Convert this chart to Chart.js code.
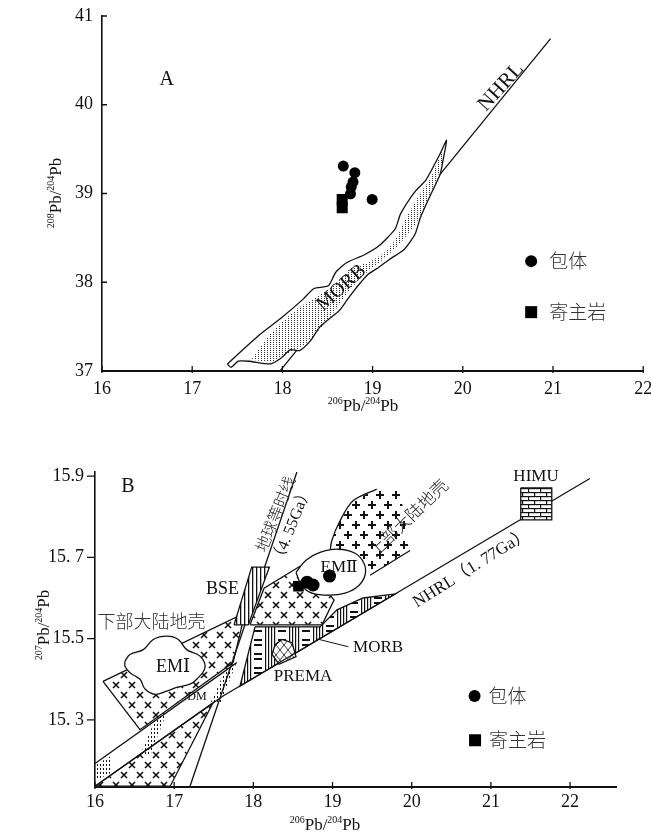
<!DOCTYPE html>
<html>
<head>
<meta charset="utf-8">
<script src="https://cdn.jsdelivr.net/npm/chart.js@4.4.1/dist/chart.umd.min.js"></script>
<style>
    body { margin: 0; background: #fff; }
    #wrap { position: relative; width: 651px; height: 832px; }
    canvas { position: absolute; left: 0; }
</style>
</head>
<body>
<div id="wrap">
    <canvas id="chartA" width="651" height="420" style="top:0"></canvas>
    <canvas id="chartB" width="651" height="392" style="top:440px"></canvas>
</div>
<script>
// Panel A: 208Pb/204Pb vs 206Pb/204Pb
var aXTicks = [16, 17, 18, 19, 20, 21, 22];
var aYTicks = [37, 38, 39, 40, 41];
var aInclusions = [[18.675, 39.309], [18.803, 39.234], [18.783, 39.129], [18.763, 39.072], [18.995, 38.933], [18.755, 38.997]];
var aHostRocks = [[18.663, 38.933], [18.663, 38.839]];
var aNhrl = [[17.976, 37.005], [20.973, 40.745]];
var aMorbOutline = [
    [17.39, 37.08], [17.75, 37.41], [17.99, 37.60], [18.23, 37.81], [18.35, 37.93], [18.51, 37.96],
    [18.59, 38.11], [18.71, 38.22], [18.91, 38.31], [19.07, 38.41], [19.25, 38.60], [19.31, 38.77],
    [19.47, 39.02], [19.59, 39.15], [19.75, 39.45], [19.82, 39.60], [19.78, 39.37], [19.75, 39.22],
    [19.65, 39.00], [19.53, 38.73], [19.47, 38.54], [19.35, 38.37], [19.19, 38.26], [19.07, 38.17],
    [18.95, 38.09], [18.87, 38.00], [18.79, 37.90], [18.71, 37.79], [18.63, 37.68], [18.51, 37.58],
    [18.41, 37.49], [18.31, 37.34], [18.19, 37.23], [18.09, 37.24], [17.99, 37.15], [17.87, 37.08],
    [17.63, 37.11], [17.51, 37.11], [17.43, 37.04], [17.39, 37.08]
];
var aMorbCore = [
    [17.66, 37.13], [17.86, 37.41], [18.16, 37.70], [18.42, 37.86], [18.64, 38.03], [18.75, 38.15],
    [18.97, 38.23], [19.16, 38.36], [19.28, 38.53], [19.37, 38.72], [19.52, 38.99], [19.64, 39.17],
    [19.78, 39.50], [19.80, 39.47], [19.72, 39.18], [19.58, 38.86], [19.46, 38.63], [19.27, 38.40],
    [19.12, 38.26], [18.98, 38.15], [18.82, 38.00], [18.70, 37.85], [18.54, 37.62], [18.38, 37.43],
    [18.22, 37.27], [17.99, 37.16], [17.87, 37.10], [17.66, 37.13]
];

// Panel B: 207Pb/204Pb vs 206Pb/204Pb
var bXTicks = [16, 17, 18, 19, 20, 21, 22];
var bYTicks = [15.3, 15.5, 15.7, 15.9];
var bYTickLabels = ['15. 3', '15.5', '15. 7', '15.9'];
var bInclusions = [[18.678, 15.639], [18.754, 15.632], [18.962, 15.654]];
var bHostRocks = [[18.570, 15.629]];
var bNhrl = [[16.0, 15.137], [17.617, 15.359], [22.25, 15.894]];
var bGeochron = [[17.2, 15.137], [18.55, 15.91]];
var bDmUpper = [[16.0, 15.193], [17.79, 15.441]];
var bLowerCrossBand = [[16.0, 15.137], [17.49, 15.342], [16.95, 15.137], [16.0, 15.137]];
var bDmStipple = [
    [[16.568, 15.212], [16.695, 15.212], [16.985, 15.359], [16.884, 15.359], [16.568, 15.212]],
    [[17.453, 15.339], [17.579, 15.339], [17.781, 15.437], [17.680, 15.437], [17.453, 15.339]],
    [[16.0, 15.188], [16.189, 15.210], [16.189, 15.168], [16.0, 15.151], [16.0, 15.188]]
];
var bLowerCrust = [[16.101, 15.395], [17.895, 15.563], [17.743, 15.441], [16.568, 15.276], [16.101, 15.395]];
var bEm1 = [
    [16.379, 15.445], [16.442, 15.461], [16.610, 15.473], [16.736, 15.498], [16.906, 15.506],
    [17.052, 15.498], [17.158, 15.473], [17.326, 15.457], [17.389, 15.429], [17.285, 15.400],
    [17.200, 15.388], [17.032, 15.380], [16.906, 15.371], [16.758, 15.363], [16.632, 15.376],
    [16.568, 15.400], [16.442, 15.416], [16.379, 15.432], [16.379, 15.445]
];
var bBse = [[17.756, 15.534], [17.979, 15.676], [18.202, 15.676], [17.936, 15.534], [17.756, 15.534]];
var bCrossField = [
    [17.958, 15.534], [18.135, 15.624], [18.589, 15.678], [18.615, 15.629], [18.741, 15.612],
    [18.968, 15.607], [19.019, 15.595], [18.867, 15.534], [17.958, 15.534]
];
var bMorb = [
    [18.021, 15.529], [18.842, 15.529], [19.057, 15.571], [19.385, 15.600], [19.789, 15.610],
    [17.831, 15.383], [18.021, 15.529]
];
var bPrema = [[18.362, 15.498], [18.488, 15.490], [18.539, 15.456], [18.324, 15.437], [18.236, 15.461], [18.274, 15.485], [18.362, 15.498]];
var bEm2 = [
    [18.539, 15.663], [18.665, 15.693], [18.842, 15.712], [19.069, 15.720], [19.284, 15.710],
    [19.398, 15.685], [19.410, 15.656], [19.322, 15.629], [19.158, 15.612], [18.968, 15.607],
    [18.741, 15.612], [18.615, 15.629], [18.539, 15.663]
];
var bUpperCrust = [
    [19.558, 15.868], [19.259, 15.839], [19.095, 15.790], [18.990, 15.741], [18.968, 15.712],
    [19.30, 15.71], [19.41, 15.67], [19.474, 15.656], [19.979, 15.717], [19.853, 15.863], [19.558, 15.868]
];
var bUpperCrustArc = [[19.558, 15.868], [19.259, 15.839], [19.095, 15.790], [18.990, 15.741], [18.968, 15.712]];
var bUpperCrustEdge = [[19.979, 15.717], [19.474, 15.656]];
var bHimu = [[21.377, 15.871], [21.769, 15.871], [21.769, 15.792], [21.377, 15.792], [21.377, 15.871]];
var bMorbPointer = [[18.79, 15.50], [19.20, 15.48]];

var ink = '#111';
var serif = '"Liberation Serif", "DejaVu Serif", serif';
var cjk = '"Noto Sans CJK SC", sans-serif';

function makePattern(w, h, bg, draw) {
    var c = document.createElement('canvas');
    c.width = w;
    c.height = h;
    var g = c.getContext('2d');
    if (bg) {
        g.fillStyle = bg;
        g.fillRect(0, 0, w, h);
    }
    g.strokeStyle = ink;
    g.fillStyle = ink;
    draw(g);
    return g.createPattern(c, 'repeat');
}

function crossAt(g, x, y, r) {
    g.beginPath();
    g.moveTo(x - r, y - r); g.lineTo(x + r, y + r);
    g.moveTo(x + r, y - r); g.lineTo(x - r, y + r);
    g.stroke();
}

function plusAt(g, x, y, r) {
    g.beginPath();
    g.moveTo(x - r, y); g.lineTo(x + r, y);
    g.moveTo(x, y - r); g.lineTo(x, y + r);
    g.stroke();
}

var patterns = {
    dots: makePattern(3, 2, null, function (g) { g.fillStyle = '#333'; g.fillRect(0, 0, 1, 1); }),
    dashes: makePattern(3, 4, null, function (g) { g.fillRect(1, 0, 1, 2); }),
    crosses: makePattern(16, 20, '#fff', function (g) {
        g.lineWidth = 1.6;
        crossAt(g, 4, 5, 3);
        crossAt(g, 12, 15, 3);
    }),
    pluses: makePattern(16, 20, null, function (g) {
        g.lineWidth = 2;
        plusAt(g, 4, 5, 4);
        plusAt(g, 12, 15, 4);
    }),
    vertical: makePattern(4, 4, '#fff', function (g) { g.fillRect(0, 0, 1.3, 4); }),
    morb: makePattern(24, 14, '#fff', function (g) {
        g.fillRect(1, 0, 1.2, 14); g.fillRect(4, 0, 1.2, 14); g.fillRect(7, 0, 1.2, 14); g.fillRect(10, 0, 1.2, 14);
        g.fillRect(14, 3, 8, 2); g.fillRect(14, 8, 8, 2);
    }),
    diamonds: makePattern(8, 10, '#fff', function (g) {
        g.lineWidth = 0.8;
        g.beginPath();
        g.moveTo(0, 0); g.lineTo(8, 10);
        g.moveTo(8, 0); g.lineTo(0, 10);
        g.stroke();
    }),
    bricks: makePattern(12, 8, '#fff', function (g) {
        g.fillRect(0, 0, 12, 1.2); g.fillRect(0, 4, 12, 1.2);
        g.fillRect(0, 0, 1.2, 4); g.fillRect(6, 4, 1.2, 4);
    })
};

function pts(list) {
    return list.map(function (p) { return { x: p[0], y: p[1] }; });
}

function shape(list, fillStyle, extra) {
    return Object.assign({
        data: pts(list),
        borderColor: ink,
        borderWidth: 1.3,
        backgroundColor: fillStyle || 'transparent',
        fill: fillStyle ? 'shape' : false,
        pointRadius: 0,
        tension: 0
    }, extra || {});
}

function markers(list, style, radius) {
    return {
        data: pts(list),
        showLine: false,
        pointStyle: style,
        pointRadius: radius,
        pointBackgroundColor: '#000',
        pointBorderColor: '#000',
        pointBorderWidth: 0
    };
}

function stack(datasets) {
    // first item is drawn at the bottom
    datasets.forEach(function (ds, i) { ds.order = datasets.length - i; });
    return datasets;
}

function drawRatio(ctx, x, y, angle, top, bottom) {
    var parts = [[top, 10, -7], ['Pb', 17, 0], ['/', 17, 0], [bottom, 10, -7], ['Pb', 17, 0]];
    var total = 0;
    ctx.save();
    ctx.translate(x, y);
    ctx.rotate(angle * Math.PI / 180);
    ctx.fillStyle = ink;
    ctx.textBaseline = 'alphabetic';
    ctx.textAlign = 'left';
    parts.forEach(function (p) {
        ctx.font = p[1] + 'px ' + serif;
        p.w = ctx.measureText(p[0]).width;
        total += p.w;
    });
    var cx = -total / 2;
    parts.forEach(function (p) {
        ctx.font = p[1] + 'px ' + serif;
        ctx.fillText(p[0], cx, 6 + p[2]);
        cx += p.w;
    });
    ctx.restore();
}

function artPlugin(cfg) {
    return {
        id: 'art',
        afterDraw: function (chart) {
            var ctx = chart.ctx;
            var xs = chart.scales.x;
            var ys = chart.scales.y;
            var area = chart.chartArea;

            ctx.save();
            ctx.strokeStyle = ink;
            ctx.lineWidth = 1.3;
            ctx.beginPath();
            xs.ticks.forEach(function (t) {
                var px = xs.getPixelForValue(t.value);
                ctx.moveTo(px, area.bottom - 5);
                ctx.lineTo(px, area.bottom + 2);
            });
            ys.ticks.forEach(function (t) {
                var py = ys.getPixelForValue(t.value);
                ctx.moveTo(area.left, py);
                ctx.lineTo(area.left + cfg.yTickLength, py);
            });
            ctx.stroke();
            ctx.restore();

            cfg.labels.forEach(function (item) {
                ctx.save();
                ctx.translate(xs.getPixelForValue(item.x), ys.getPixelForValue(item.y));
                ctx.rotate((item.angle || 0) * Math.PI / 180);
                ctx.font = item.font;
                ctx.fillStyle = item.color || ink;
                ctx.textAlign = 'center';
                ctx.textBaseline = 'middle';
                ctx.fillText(item.text, 0, 0);
                ctx.restore();
            });

            cfg.legend.forEach(function (item) {
                var px = xs.getPixelForValue(item.x);
                var py = ys.getPixelForValue(item.y);
                ctx.save();
                ctx.fillStyle = '#000';
                if (item.marker === 'circle') {
                    ctx.beginPath();
                    ctx.arc(px, py, 6, 0, Math.PI * 2);
                    ctx.fill();
                } else {
                    ctx.fillRect(px - 6, py - 6, 12, 12);
                }
                ctx.font = '300 19px ' + cjk;
                ctx.fillStyle = '#333';
                ctx.textAlign = 'left';
                ctx.textBaseline = 'middle';
                ctx.fillText(item.text, px + cfg.legendGap, py);
                ctx.restore();
            });

            drawRatio(ctx, cfg.xTitle[0], cfg.xTitle[1], 0, '206', '204');
            drawRatio(ctx, cfg.yTitle[0], cfg.yTitle[1], -90, cfg.yTitle[2], '204');
        }
    };
}

function baseOptions(xMin, xMax, yMin, yMax, xTicks, yTicks, layout) {
    return {
        responsive: false,
        animation: false,
        layout: { padding: layout.padding },
        plugins: { legend: { display: false }, tooltip: { enabled: false } },
        scales: {
            x: {
                type: 'linear',
                min: xMin,
                max: xMax,
                grid: { display: false, drawTicks: false },
                border: { display: true, color: ink, width: 2 },
                ticks: { color: ink, font: { family: serif, size: 18 }, padding: layout.xPad },
                afterBuildTicks: function (s) { s.ticks = xTicks.map(function (v) { return { value: v }; }); },
                afterFit: function (s) { s.height = layout.xHeight; s.paddingLeft = 0; s.paddingRight = 0; }
            },
            y: {
                type: 'linear',
                min: yMin,
                max: yMax,
                grid: { display: false, drawTicks: false },
                border: { display: true, color: ink, width: 1.6 },
                ticks: {
                    color: ink,
                    font: { family: serif, size: 18 },
                    padding: layout.yPad,
                    callback: layout.yLabel
                },
                afterBuildTicks: function (s) { s.ticks = yTicks.map(function (v) { return { value: v }; }); },
                afterFit: function (s) { s.width = layout.yWidth; s.paddingTop = 0; s.paddingBottom = 0; }
            }
        }
    };
}

new Chart(document.getElementById('chartA'), {
    type: 'line',
    data: {
        datasets: stack([
            shape(aNhrl, null),
            shape(aMorbOutline, '#fff', { tension: 0.2 }),
            shape(aMorbCore, patterns.dots, { borderWidth: 0, tension: 0.2 }),
            markers(aHostRocks, 'rect', 7.8),
            markers(aInclusions, 'circle', 5.5)
        ])
    },
    options: baseOptions(16, 22, 37, 41, aXTicks, aYTicks, {
        padding: { top: 16, right: 3, bottom: 0, left: 0 },
        xHeight: 49, yWidth: 102, xPad: 7, yPad: 9,
        yLabel: function (v) { return String(v); }
    }),
    plugins: [artPlugin({
        yTickLength: 5,
        legendGap: 18,
        xTitle: [363, 405],
        yTitle: [55, 193, '208'],
        labels: [
            { text: 'A', x: 16.718, y: 40.283, font: '20px ' + serif },
            { text: 'NHRL', x: 20.425, y: 40.2, angle: -48, font: '21px ' + serif },
            { text: 'MORB', x: 18.655, y: 37.937, angle: -42, font: '20px ' + serif }
        ],
        legend: [
            { marker: 'circle', text: '包体', x: 20.758, y: 38.238 },
            { marker: 'rect', text: '寄主岩', x: 20.758, y: 37.663 }
        ]
    })]
});

new Chart(document.getElementById('chartB'), {
    type: 'line',
    data: {
        datasets: stack([
            shape(bLowerCrossBand, patterns.crosses),
            shape(bDmStipple[0], patterns.dashes, { borderWidth: 0 }),
            shape(bDmStipple[1], patterns.dashes, { borderWidth: 0 }),
            shape(bDmStipple[2], patterns.dashes, { borderWidth: 0 }),
            shape(bLowerCrust, patterns.crosses),
            shape(bMorb, patterns.morb),
            shape(bPrema, patterns.diamonds),
            shape(bCrossField, patterns.crosses),
            shape(bUpperCrust, patterns.pluses, { borderWidth: 0 }),
            shape(bUpperCrustArc, null, { tension: 0.3 }),
            shape(bUpperCrustEdge, null),
            shape(bEm2, '#fff', { tension: 0.4 }),
            shape(bEm1, '#fff', { tension: 0.4 }),
            shape(bDmUpper, null),
            shape(bGeochron, null),
            shape(bNhrl, null),
            shape(bBse, patterns.vertical),
            shape(bHimu, patterns.bricks),
            shape(bMorbPointer, null, { borderWidth: 1 }),
            markers(bHostRocks, 'rect', 7.5),
            markers(bInclusions, 'circle', 6.5)
        ])
    },
    options: baseOptions(16, 22.58, 15.135, 15.91, bXTicks, bYTicks, {
        padding: { top: 32, right: 35, bottom: 0, left: 0 },
        xHeight: 45, yWidth: 95, xPad: 4, yPad: 11,
        yLabel: function (v) { return bYTickLabels[bYTicks.indexOf(v)]; }
    }),
    plugins: [artPlugin({
        yTickLength: -8,
        legendGap: 14,
        xTitle: [325, 384],
        yTitle: [43, 185, '207'],
        labels: [
            { text: 'B', x: 16.417, y: 15.874, font: '20px ' + serif },
            { text: 'BSE', x: 17.61, y: 15.622, font: '18px ' + serif },
            { text: '下部大陆地壳', x: 16.714, y: 15.543, font: '300 18px ' + cjk, color: '#333' },
            { text: '地球等时线', x: 18.274, y: 15.807, angle: -68, font: '300 16px ' + cjk, color: '#222' },
            { text: '（4. 55Ga）', x: 18.488, y: 15.778, angle: -68, font: '16px ' + serif + ', ' + cjk },
            { text: '上部大陆地壳', x: 19.954, y: 15.798, angle: -44, font: '300 17px ' + cjk, color: '#222' },
            { text: 'NHRL（1. 77Ga）', x: 20.756, y: 15.673, angle: -32, font: '17px ' + serif + ', ' + cjk },
            { text: 'EMⅡ', x: 19.082, y: 15.676, font: '17px ' + serif + ', ' + cjk },
            { text: 'EMⅠ', x: 16.985, y: 15.429, font: '18px ' + serif + ', ' + cjk },
            { text: 'DM', x: 17.288, y: 15.356, font: '12px ' + serif },
            { text: 'MORB', x: 19.575, y: 15.478, font: '17px ' + serif },
            { text: 'PREMA', x: 18.627, y: 15.406, font: '17px ' + serif },
            { text: 'HIMU', x: 21.57, y: 15.898, font: '17px ' + serif }
        ],
        legend: [
            { marker: 'circle', text: '包体', x: 20.794, y: 15.359 },
            { marker: 'rect', text: '寄主岩', x: 20.8, y: 15.250 }
        ]
    })]
});
</script>
</body>
</html>
